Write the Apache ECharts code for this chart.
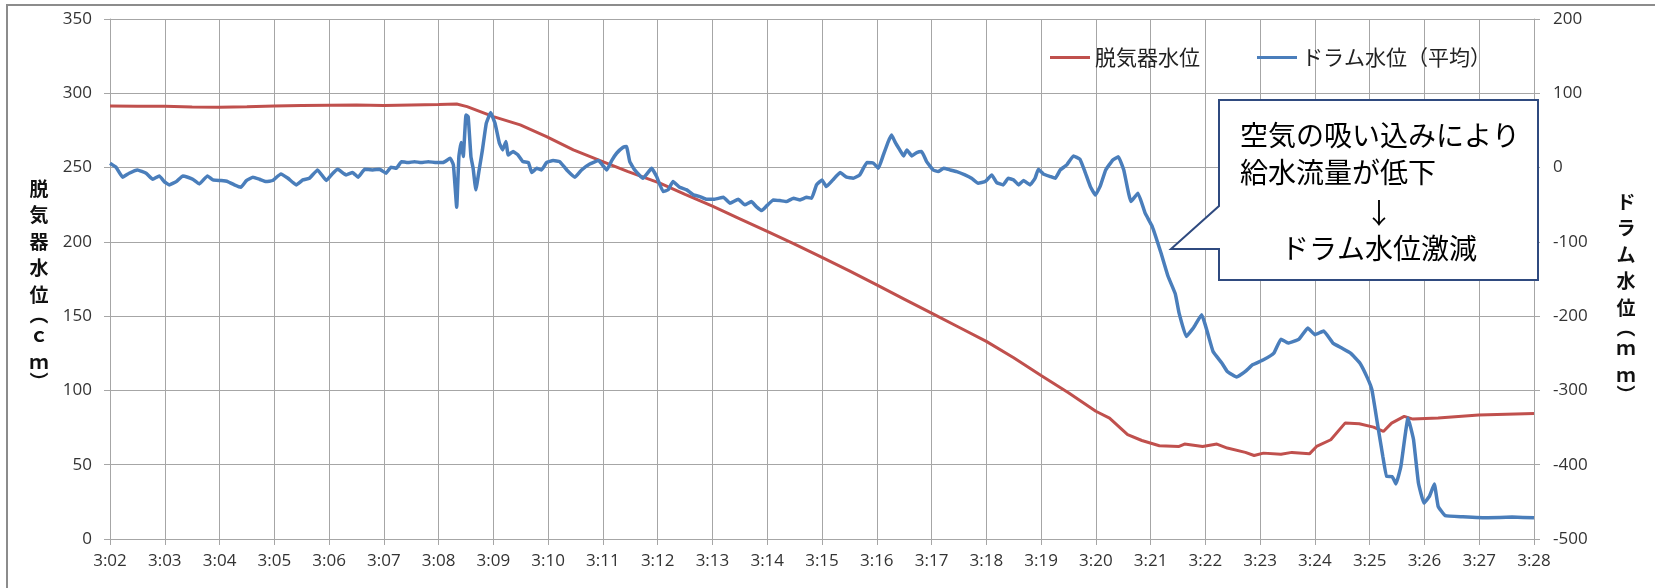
<!DOCTYPE html>
<html>
<head>
<meta charset="utf-8">
<script src="https://cdn.jsdelivr.net/npm/echarts@6.0.0/dist/echarts.min.js"></script>
<style>
  html, body { margin: 0; padding: 0; background: #ffffff; }
  #chart { width: 1655px; height: 588px; }
</style>
</head>
<body>
<div id="chart"></div>
<script>
// Time axis: minutes after 3:00
const timeLabels = ['3:02','3:03','3:04','3:05','3:06','3:07','3:08','3:09','3:10','3:11','3:12','3:13','3:14',
  '3:15','3:16','3:17','3:18','3:19','3:20','3:21','3:22','3:23','3:24','3:25','3:26','3:27','3:28'];

const seriesNames = ['脱気器水位', 'ドラム水位（平均）'];

// 脱気器水位 (cm), left axis
const deaeratorTime = [2.00, 2.50, 3.00, 3.50, 4.00, 4.50, 5.00, 5.50, 6.00, 6.50, 7.00, 7.50, 8.00, 8.33, 8.52, 8.76,
  9.00, 9.49, 9.97, 10.46, 10.95, 11.46, 12.04, 12.50, 13.00, 13.50, 14.00, 14.50, 15.00, 15.50, 16.00, 16.50,
  17.00, 17.50, 18.00, 18.50, 19.00, 19.50, 20.00, 20.25, 20.58, 20.84, 21.16, 21.52, 21.62, 21.95, 22.21, 22.40,
  22.73, 22.89, 23.06, 23.38, 23.58, 23.90, 24.03, 24.29, 24.55, 24.81, 25.07, 25.25, 25.40, 25.63, 25.79, 26.25,
  26.99, 28.00];
const deaeratorLevel = [291.5, 291.3, 291.2, 290.8, 290.6, 290.9, 291.5, 291.8, 292.0, 292.1, 291.8, 292.1, 292.4, 292.8, 291.0, 287.7,
  284.3, 278.7, 270.8, 261.9, 254.7, 247.3, 239.5, 232.0, 224.0, 215.5, 207.0, 198.5, 189.5, 180.5, 171.0, 161.5,
  152.0, 142.5, 133.0, 122.0, 110.0, 98.5, 86.0, 81.4, 70.2, 66.3, 62.8, 62.3, 63.9, 62.3, 63.9, 61.2,
  58.3, 56.2, 57.8, 57.1, 58.3, 57.3, 62.3, 66.8, 78.0, 77.6, 75.3, 72.4, 78.0, 82.5, 80.7, 81.4,
  83.4, 84.5];

// ドラム水位（平均） (mm), right axis
const drumTime = [2.00, 2.11, 2.23, 2.35, 2.50, 2.66, 2.78, 2.90, 2.99, 3.08, 3.21, 3.33, 3.42, 3.51, 3.63, 3.78,
  3.88, 4.03, 4.15, 4.27, 4.39, 4.49, 4.61, 4.73, 4.85, 4.97, 5.12, 5.25, 5.40, 5.52, 5.64, 5.79,
  5.95, 6.07, 6.16, 6.31, 6.43, 6.53, 6.65, 6.80, 6.92, 7.04, 7.13, 7.23, 7.32, 7.44, 7.56, 7.68,
  7.81, 7.96, 8.08, 8.21, 8.27, 8.33, 8.37, 8.41, 8.45, 8.50, 8.54, 8.59, 8.63, 8.68, 8.74, 8.80,
  8.87, 8.95, 9.03, 9.11, 9.17, 9.23, 9.27, 9.36, 9.45, 9.54, 9.64, 9.70, 9.79, 9.88, 9.97, 10.09,
  10.21, 10.34, 10.49, 10.61, 10.76, 10.92, 11.07, 11.16, 11.25, 11.37, 11.43, 11.49, 11.58, 11.73, 11.89, 11.98,
  12.10, 12.19, 12.28, 12.40, 12.53, 12.65, 12.77, 12.89, 13.04, 13.20, 13.32, 13.47, 13.59, 13.71, 13.80, 13.90,
  13.99, 14.11, 14.23, 14.35, 14.48, 14.60, 14.72, 14.81, 14.90, 15.00, 15.08, 15.20, 15.33, 15.45, 15.57, 15.69,
  15.82, 15.94, 16.03, 16.12, 16.21, 16.27, 16.33, 16.42, 16.49, 16.55, 16.64, 16.73, 16.82, 16.91, 17.03, 17.12,
  17.22, 17.34, 17.46, 17.61, 17.73, 17.85, 17.98, 18.10, 18.19, 18.31, 18.40, 18.50, 18.59, 18.68, 18.80, 18.89,
  18.95, 19.04, 19.17, 19.26, 19.35, 19.47, 19.59, 19.71, 19.80, 19.90, 19.99, 20.08, 20.18, 20.31, 20.41, 20.51,
  20.64, 20.77, 20.90, 21.03, 21.19, 21.32, 21.45, 21.52, 21.65, 21.78, 21.93, 22.14, 22.30, 22.40, 22.57, 22.73,
  22.86, 23.06, 23.25, 23.38, 23.51, 23.71, 23.87, 24.00, 24.16, 24.33, 24.49, 24.65, 24.82, 24.96, 25.04, 25.14,
  25.24, 25.31, 25.41, 25.48, 25.57, 25.70, 25.80, 25.89, 25.99, 26.09, 26.18, 26.25, 26.38, 26.70, 27.16, 27.60,
  28.00];
const drumLevel = [5.8, 0.4, -13.0, -7.6, -3.2, -7.6, -15.7, -11.2, -18.9, -23.3, -18.9, -11.2, -13.0, -15.7, -22.0, -11.2,
  -16.6, -17.5, -18.9, -23.3, -26.5, -17.5, -13.0, -15.7, -18.9, -17.5, -8.5, -14.4, -23.3, -16.6, -14.4, -3.2,
  -17.5, -7.6, -2.3, -9.9, -6.7, -13.0, -2.3, -3.2, -2.3, -7.6, 0.4, -1.0, 8.0, 6.7, 8.0, 6.7,
  8.0, 6.7, 6.7, 12.5, 3.6, -53.4, 14.8, 33.6, 14.8, 70.8, 68.6, 14.8, -1.0, -30.0, -3.2, 23.8,
  59.6, 74.0, 59.6, 32.7, 23.8, 35.0, 17.0, 21.5, 17.0, 8.0, 6.7, -6.7, -1.0, -3.2, 6.7, 9.4,
  8.0, -3.2, -13.0, -3.2, 4.9, 9.4, -3.2, 9.4, 19.3, 27.3, 28.3, 8.0, -3.2, -14.4, -1.0, -12.1,
  -32.3, -30.0, -18.9, -26.5, -30.0, -36.8, -39.0, -42.6, -42.6, -39.9, -48.0, -42.6, -50.2, -45.8, -52.5, -57.9,
  -51.6, -43.5, -44.4, -45.8, -41.3, -43.5, -39.9, -41.3, -23.3, -16.6, -25.6, -16.6, -6.7, -13.0, -14.4, -9.9,
  6.7, 5.8, -1.0, 17.0, 35.0, 43.9, 35.0, 23.8, 15.7, 23.8, 15.7, 20.2, 21.5, 8.0, -3.2, -5.4,
  -1.0, -3.2, -5.4, -9.9, -14.4, -21.1, -18.9, -9.9, -20.2, -23.3, -14.4, -16.6, -23.3, -17.5, -23.3, -14.4,
  -2.3, -8.5, -12.1, -14.4, -3.2, 3.6, 15.7, 11.2, -5.4, -25.6, -37.0, -25.0, -3.2, 10.2, 14.7, -3.2,
  -45.8, -34.5, -61.4, -79.4, -115.0, -146.7, -170.0, -196.0, -227.4, -216.0, -198.0, -247.6, -263.0, -274.5, -282.0, -274.5,
  -265.5, -258.8, -249.8, -231.0, -236.3, -231.0, -216.0, -225.0, -220.0, -236.3, -243.0, -249.8, -263.0, -283.4, -299.0, -344.0,
  -389.0, -415.8, -416.0, -425.8, -402.0, -337.0, -366.0, -424.6, -451.6, -442.7, -426.0, -456.0, -468.6, -470.0, -471.4, -470.5,
  -471.4];

const leftAxisTicks = { min: 0, max: 350, interval: 50 };
const rightAxisTicks = { min: -500, max: 200, interval: 100 };

const calloutLines = ['空気の吸い込みにより', '給水流量が低下', '↓', 'ドラム水位激減'];

const RED = '#C0504D';
const BLUE = '#4A7EBB';
const GRID_GRAY = '#A6A6A6';
const LABEL_COLOR = '#333333';
const CJK = '"Noto Sans CJK JP", "Noto Sans", sans-serif';
const NUM_FONT = '"Open Sans", "Noto Sans", sans-serif';

const zip = (xs, ys) => xs.map((x, i) => [x, ys[i]]);

// vertical axis title, one glyph per line; bracket lines are shorter
function verticalTitle(chars) {
  return chars.map(c => (c === '︵' || c === '︶') ? '{p|' + c + '}' : '{a|' + c + '}').join('\n');
}
const titleRich = {
  a: { fontSize: 19, fontWeight: 'bold', lineHeight: 26.5, fontFamily: CJK, fill: '#111', align: 'center' },
  p: { fontSize: 19, fontWeight: 'bold', lineHeight: 14, fontFamily: CJK, fill: '#111', align: 'center' }
};

const chart = echarts.init(document.getElementById('chart'), null, { renderer: 'canvas' });

chart.setOption({
  animation: false,
  backgroundColor: '#ffffff',
  grid: { left: 110, right: 121, top: 19, bottom: 49, containLabel: false },
  legend: {
    left: 1045,
    top: 42,
    icon: 'rect',
    itemWidth: 40,
    itemHeight: 3,
    itemGap: 57,
    textStyle: { fontSize: 21, fontFamily: CJK, color: '#222' },
    data: seriesNames
  },
  xAxis: {
    type: 'value',
    min: 2,
    max: 28,
    interval: 1,
    axisLine: { show: true, lineStyle: { color: GRID_GRAY, width: 1 } },
    axisTick: { show: true, inside: false, length: 6, lineStyle: { color: GRID_GRAY } },
    axisLabel: {
      margin: 14,
      fontSize: 17,
      fontFamily: NUM_FONT,
      color: LABEL_COLOR,
      formatter: v => timeLabels[Math.round(v) - 2]
    },
    splitLine: { show: true, lineStyle: { color: GRID_GRAY, width: 1 } }
  },
  yAxis: [
    {
      type: 'value',
      position: 'left',
      min: leftAxisTicks.min,
      max: leftAxisTicks.max,
      interval: leftAxisTicks.interval,
      axisLine: { show: true, lineStyle: { color: GRID_GRAY } },
      axisTick: { show: true, length: 6, lineStyle: { color: GRID_GRAY } },
      axisLabel: { margin: 18, fontSize: 17, fontFamily: NUM_FONT, color: LABEL_COLOR },
      splitLine: { show: true, lineStyle: { color: GRID_GRAY, width: 1 } }
    },
    {
      type: 'value',
      position: 'right',
      min: rightAxisTicks.min,
      max: rightAxisTicks.max,
      interval: rightAxisTicks.interval,
      axisLine: { show: true, lineStyle: { color: GRID_GRAY } },
      axisTick: { show: true, length: 6, lineStyle: { color: GRID_GRAY } },
      axisLabel: { margin: 19, fontSize: 17, fontFamily: NUM_FONT, color: LABEL_COLOR },
      splitLine: { show: false }
    }
  ],
  series: [
    {
      name: seriesNames[0],
      type: 'line',
      yAxisIndex: 0,
      data: zip(deaeratorTime, deaeratorLevel),
      showSymbol: false,
      symbol: 'none',
      lineStyle: { color: RED, width: 3 },
      itemStyle: { color: RED },
      z: 2
    },
    {
      name: seriesNames[1],
      type: 'line',
      yAxisIndex: 1,
      data: zip(drumTime, drumLevel),
      showSymbol: false,
      symbol: 'none',
      smooth: 0.1,
      lineStyle: { color: BLUE, width: 3.5 },
      itemStyle: { color: BLUE },
      z: 3
    }
  ],
  graphic: [
    // chart area frame (top and left edges)
    { type: 'polyline', shape: { points: [[7, 600], [7, 5], [1660, 5]] },
      style: { stroke: '#8C8C8C', lineWidth: 2, fill: null }, silent: true },
    // axis titles
    { type: 'text', x: 39, y: 282, style: {
        text: verticalTitle(['脱','気','器','水','位','︵','ｃ','ｍ','︶']),
        rich: titleRich, align: 'center', verticalAlign: 'middle' } },
    { type: 'text', x: 1626, y: 295, style: {
        text: verticalTitle(['ド','ラ','ム','水','位','︵','ｍ','ｍ','︶']),
        rich: titleRich, align: 'center', verticalAlign: 'middle' } },
    // callout box
    { type: 'polygon', z: 100,
      shape: { points: [[1219, 100], [1538, 100], [1538, 280], [1219, 280], [1219, 249], [1171, 249], [1219, 206]] },
      style: { fill: '#ffffff', stroke: '#2F4A7F', lineWidth: 2 } },
    { type: 'text', z: 101, x: 1240, y: 135, style: { text: calloutLines[0], font: '28px ' + CJK, fill: '#000', align: 'left', verticalAlign: 'middle' } },
    { type: 'text', z: 101, x: 1240, y: 172, style: { text: calloutLines[1], font: '28px ' + CJK, fill: '#000', align: 'left', verticalAlign: 'middle' } },
    { type: 'text', z: 101, x: 1379, y: 213, style: { text: calloutLines[2], font: '28px ' + CJK, fill: '#000', align: 'center', verticalAlign: 'middle' } },
    { type: 'text', z: 101, x: 1379, y: 248, style: { text: calloutLines[3], font: '28px ' + CJK, fill: '#000', align: 'center', verticalAlign: 'middle' } }
  ]
});
</script>
</body>
</html>
